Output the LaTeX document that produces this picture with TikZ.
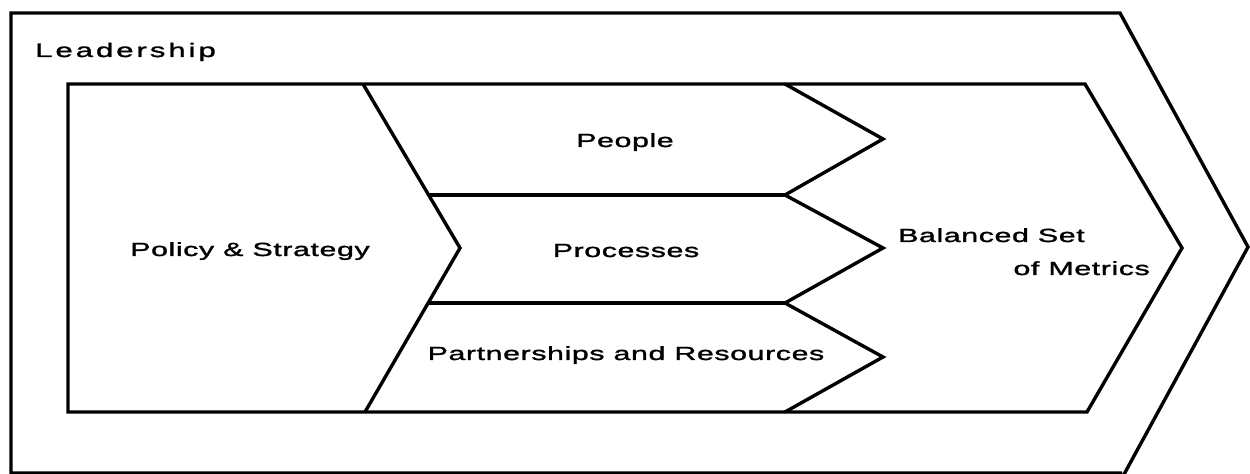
\documentclass[tikz,border=0pt]{standalone}
\usepackage{fontspec}
\newfontfamily\lblfont[FakeStretch=1.6,FakeBold=1.5,LetterSpace=3]{Liberation Sans}
\newfontfamily\headfont[FakeStretch=1.6,FakeBold=1.5,LetterSpace=15]{Liberation Sans}
\begin{document}
\begin{tikzpicture}[x=1bp,y=-1bp,
  frame/.style={draw=black,line width=3.4bp,line join=miter},
  lbl/.style={inner sep=0pt,font=\lblfont\fontsize{19bp}{23bp}\selectfont},
  head/.style={inner sep=0pt,font=\headfont\fontsize{19.5bp}{23bp}\selectfont}]
\useasboundingbox (0,0) rectangle (1250,474);

% outer "Leadership" arrow
\draw[frame] (1122,478) -- (1248,247) -- (1120,13) -- (11,13) -- (11,473) -- (1122,473);

% inner arrow
\draw[frame] (68,84) -- (1085,84) -- (1182,248) -- (1087,412) -- (68,412) -- cycle;

% policy & strategy chevron
\draw[frame] (363,84) -- (460,248) -- (365,412);

% row separators
\coordinate (s1a) at (428,195); \coordinate (s1b) at (785,195);
\coordinate (s2a) at (428,303); \coordinate (s2b) at (785,303);
\draw[frame] (s1a) -- (s1b);
\draw[frame] (s2a) -- (s2b);

% zigzag of the three enabler chevrons
\draw[frame] (785,84) -- (883,139) -- (s1b) -- (883,248) -- (s2b) -- (883,357) -- (785,412);

% labels
\node[head,anchor=base west] (lead) at (35,57) {Leadership};
\node[lbl,anchor=base] (pol) at (250,256) {Policy \& Strategy};
\node[lbl,anchor=base] (peo) at (625,147) {People};
\node[lbl,anchor=base] (pro) at (626,257) {Processes};
\node[lbl,anchor=base] (par) at (626,360) {Partnerships and Resources};
\node[lbl,anchor=base west] (bal) at (898,242) {Balanced Set};
\node[lbl,anchor=base east] (met) at (1150,275) {of Metrics};
\end{tikzpicture}
\end{document}
